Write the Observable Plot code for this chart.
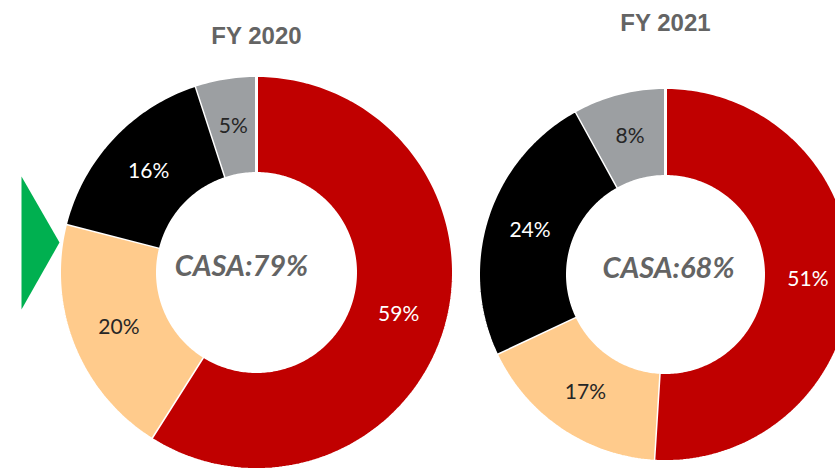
<!DOCTYPE html>
<html>
<head>
<meta charset="utf-8">
<script src="https://cdn.jsdelivr.net/npm/d3@7"></script>
<script src="https://cdn.jsdelivr.net/npm/@observablehq/plot@0.6"></script>
<style>
  html, body { margin: 0; padding: 0; background: #fff; overflow: hidden; }
  #chart { width: 835px; height: 469px; overflow: hidden; }
</style>
</head>
<body>
<div id="chart"></div>
<script>
// ---- data ----
const years = ["FY 2020", "FY 2021"];
const segments = ["Savings", "Current", "Term Deposits", "Others"];
const fy2020 = [59, 20, 16, 5];
const fy2021 = [51, 17, 24, 8];
const casa = [79, 68];
const colors = ["#C00000", "#FFCB8C", "#000000", "#9C9FA2"];
const labelColors = ["#ffffff", "#262626", "#ffffff", "#262626"];

// ---- layout ----
const W = 835, H = 469;
const donuts = [
  {year: years[0], values: fy2020, casa: casa[0], cx: 256, cy: 272, ro: 197, ri: 99, titleY: 36, centerDx: -15},
  {year: years[1], values: fy2021, casa: casa[1], cx: 665, cy: 274, ro: 187, ri: 98, titleY: 23, centerDx: 3}
];

const ringPts = [];
const labels = [];
donuts.forEach((d, di) => {
  const total = d3.sum(d.values);
  let cum = 0;
  d.values.forEach((v, si) => {
    const a0 = cum / total * 2 * Math.PI;
    cum += v;
    const a1 = cum / total * 2 * Math.PI;
    const key = d.year + "|" + segments[si];
    const n = Math.max(4, Math.ceil((a1 - a0) / (Math.PI / 180)));
    for (let i = 0; i <= n; i++) {
      const a = a0 + (a1 - a0) * i / n;
      ringPts.push({key, seg: segments[si], x: d.cx + d.ro * Math.sin(a), y: d.cy - d.ro * Math.cos(a)});
    }
    for (let i = n; i >= 0; i--) {
      const a = a0 + (a1 - a0) * i / n;
      ringPts.push({key, seg: segments[si], x: d.cx + d.ri * Math.sin(a), y: d.cy - d.ri * Math.cos(a)});
    }
    const am = (a0 + a1) / 2, rm = (d.ro + d.ri) / 2;
    labels.push({x: d.cx + rm * Math.sin(am), y: d.cy - rm * Math.cos(am), text: v + "%", color: labelColors[si]});
  });
});

const titles = donuts.map(d => ({x: d.cx, y: d.titleY, text: d.year}));
const centers = donuts.map(d => ({x: d.cx + d.centerDx, y: d.cy - 6, text: "CASA:" + d.casa + "%"}));

// indicator arrow to the left of the first donut
const L = donuts[0];
const arrow = [
  {x: L.cx - L.ro - 38, y: L.cy - 96},
  {x: L.cx - L.ro, y: L.cy - 30},
  {x: L.cx - L.ro - 38, y: L.cy + 37}
];

const chart = Plot.plot({
  width: W,
  height: H,
  margin: 0,
  x: {domain: [0, W], range: [0, W], axis: null},
  y: {domain: [0, H], range: [0, H], axis: null},
  color: {domain: segments, range: colors},
  style: {background: "#fff", overflow: "hidden"},
  marks: [
    Plot.line(arrow, {x: "x", y: "y", fill: "#00B050", stroke: "none"}),
    Plot.line(ringPts, {x: "x", y: "y", z: "key", fill: "seg", stroke: "white", strokeWidth: 3, strokeLinejoin: "miter"}),
    Plot.text(labels, {x: "x", y: "y", text: "text", fill: d => d.color, fontSize: 21, fontFamily: "Lato, 'Open Sans', sans-serif", fontWeight: 400}),
    Plot.text(centers, {x: "x", y: "y", text: "text", fill: "#646464", fontSize: 29, fontWeight: "bold", fontStyle: "italic", fontFamily: "Lato, 'DejaVu Sans', sans-serif"}),
    Plot.text(titles, {x: "x", y: "y", text: "text", fill: "#646464", fontSize: 24, fontWeight: "bold", fontFamily: "'Liberation Sans', Arial, sans-serif"})
  ]
});
document.getElementById("chart").appendChild(chart);
</script>
</body>
</html>
